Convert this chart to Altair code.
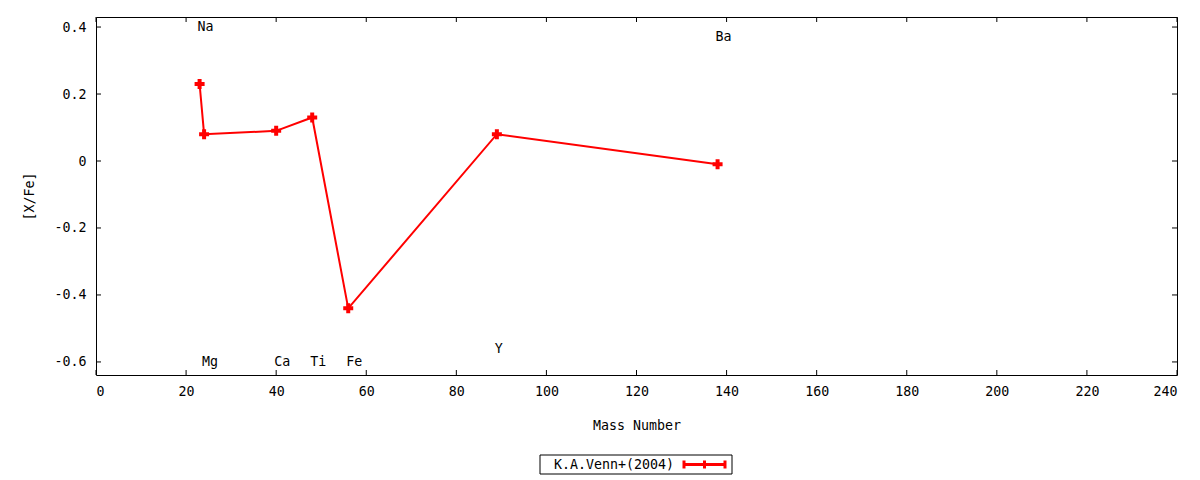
import altair as alt
import pandas as pd

# Venn et al. (2004) abundance ratios
elements = ["Na", "Mg", "Ca", "Ti", "Fe", "Y", "Ba"]
mass = [23, 24, 40, 48, 56, 89, 138]
xfe = [0.23, 0.08, 0.09, 0.13, -0.44, 0.08, -0.01]
label_y = [0.40, -0.60, -0.60, -0.60, -0.60, -0.56, 0.37]
series_name = "K.A.Venn+(2004)"

x_ticks = list(range(0, 241, 20))
y_ticks = [-0.6, -0.4, -0.2, 0.0, 0.2, 0.4]

W, H = 1081, 358
FONT = "DejaVu Sans Mono"
FS = 13.3
RED = "#ff0000"

df = pd.DataFrame({"element": elements, "mass": mass, "xfe": xfe, "label_y": label_y})
xt = pd.DataFrame({"t": x_ticks})
yt = pd.DataFrame({"t": y_ticks})

x_scale = alt.Scale(domain=[0, 240], nice=False, zero=False)
y_scale = alt.Scale(domain=[-0.639, 0.43], nice=False, zero=False)

x_axis = alt.Axis(values=x_ticks, ticks=False, domain=False, grid=False,
                  labelPadding=9, title="Mass Number", titlePadding=21)
y_axis = alt.Axis(values=y_ticks, ticks=False, domain=False, grid=False,
                  labelPadding=10, title="[X/Fe]", titlePadding=17,
                  labelExpr="datum.value == 0 ? '0' : (datum.value < 0 ? '-' + format(-datum.value, '.1f') : format(datum.value, '.1f'))")

X = alt.X("mass:Q", scale=x_scale, axis=x_axis)
Y = alt.Y("xfe:Q", scale=y_scale, axis=y_axis)

base = alt.Chart(df)
line = base.mark_line(color=RED, strokeWidth=2).encode(x=X, y=Y, order="mass:Q")
points = base.mark_point(shape="cross", filled=True, size=100, color=RED, opacity=1).encode(x=X, y=Y)
labels = base.mark_text(align="left", baseline="middle", dx=-2, font=FONT, fontSize=FS,
                        color="black").encode(
    x=X, y=alt.Y("label_y:Q", scale=y_scale, axis=y_axis), text="element:N")

# gnuplot-style inward ticks on all four sides
tx = alt.X("t:Q", scale=x_scale, axis=x_axis)
ty = alt.Y("t:Q", scale=y_scale, axis=y_axis)
left_ticks = alt.Chart(yt).mark_rule(color="black").encode(y=ty, x=alt.value(0), x2=alt.value(5))
right_ticks = alt.Chart(yt).mark_rule(color="black").encode(y=ty, x=alt.value(W - 5), x2=alt.value(W))
bottom_ticks = alt.Chart(xt).mark_rule(color="black").encode(x=tx, y=alt.value(H - 5), y2=alt.value(H))
top_ticks = alt.Chart(xt).mark_rule(color="black").encode(x=tx, y=alt.value(0), y2=alt.value(5))

# legend box below the axis title
leg = alt.Chart(pd.DataFrame({"name": [series_name]}))
leg_box = leg.mark_rect(fill="white", stroke="black", strokeWidth=1).encode(
    x=alt.value(444), x2=alt.value(636), y=alt.value(438), y2=alt.value(457))
leg_text = leg.mark_text(align="left", baseline="middle", font=FONT, fontSize=FS, color="black").encode(
    x=alt.value(458), y=alt.value(447.5), text="name:N")
leg_line = leg.mark_rule(color=RED, strokeWidth=3).encode(
    x=alt.value(587), x2=alt.value(630), y=alt.value(447.5))
leg_caps = [
    leg.mark_rule(color=RED, strokeWidth=3).encode(x=alt.value(px), y=alt.value(443.5), y2=alt.value(451.5))
    for px in (588, 608.5, 629)
]

chart = alt.layer(
    left_ticks, right_ticks, bottom_ticks, top_ticks,
    line, points, labels,
    leg_box, leg_text, leg_line, *leg_caps,
).properties(
    width=W, height=H,
    autosize=alt.AutoSizeParams(type="none"),
    padding={"left": 88, "top": 9, "right": 15, "bottom": 103},
).configure_view(
    stroke="black", strokeWidth=1
).configure_axis(
    labelFont=FONT, titleFont=FONT, labelFontSize=FS, titleFontSize=FS,
    labelColor="black", titleColor="black", titleFontWeight="normal",
)

chart.save("out.html", embed_options={"renderer": "svg", "actions": False})
